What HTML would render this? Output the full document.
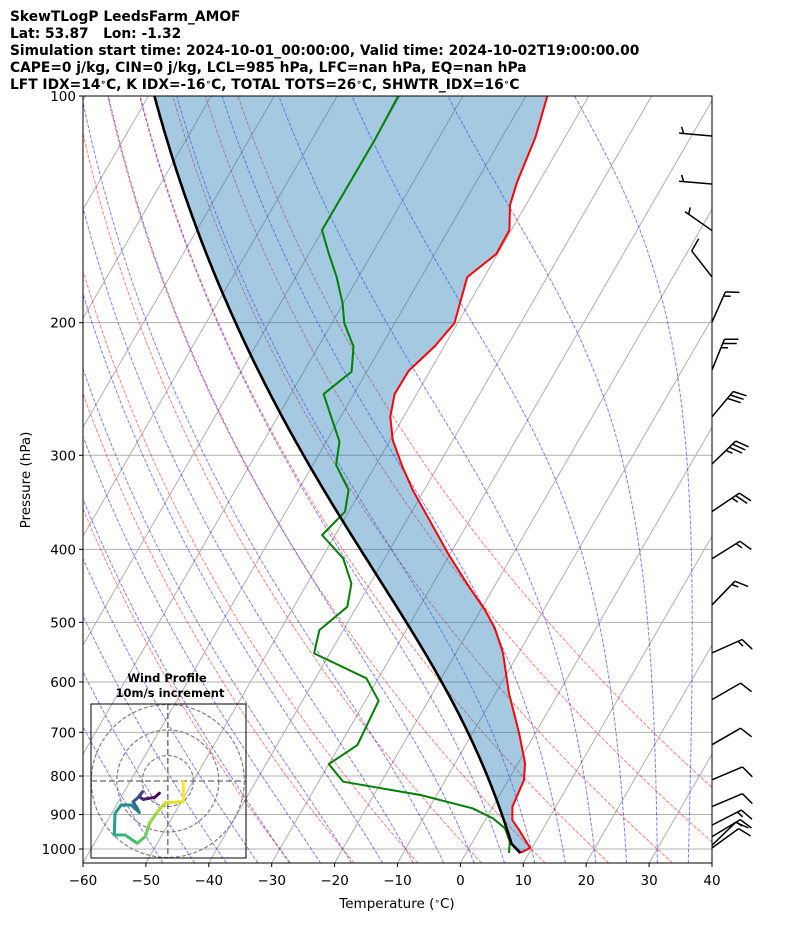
<!DOCTYPE html>
<html><head><meta charset="utf-8"><style>
html,body{margin:0;padding:0;background:#fff;}
svg{display:block;font-family:"DejaVu Sans","Liberation Sans",sans-serif;}
</style></head><body>
<svg id="chart" width="794" height="937" viewBox="0 0 794 937" xmlns="http://www.w3.org/2000/svg">
<defs><clipPath id="plotclip"><rect x="83" y="96" width="629" height="767"/></clipPath>
<clipPath id="hodoclip"><rect x="91" y="704" width="155" height="154"/></clipPath></defs>
<g font-weight="bold" font-size="13.8" fill="#000">
<text x="10" y="21">SkewTLogP LeedsFarm_AMOF</text>
<text x="10" y="38" xml:space="preserve">Lat: 53.87   Lon: -1.32</text>
<text x="10" y="55">Simulation start time: 2024-10-01_00:00:00, Valid time: 2024-10-02T19:00:00.00</text>
<text x="10" y="72">CAPE=0 j/kg, CIN=0 j/kg, LCL=985 hPa, LFC=nan hPa, EQ=nan hPa</text>
<text x="10" y="89">LFT IDX=14<tspan font-size="9" dy="-4">∘</tspan><tspan dy="4">C, K IDX=-16</tspan><tspan font-size="9" dy="-4">∘</tspan><tspan dy="4">C, TOTAL TOTS=26</tspan><tspan font-size="9" dy="-4">∘</tspan><tspan dy="4">C, SHWTR_IDX=16</tspan><tspan font-size="9" dy="-4">∘</tspan><tspan dy="4">C</tspan></text>
</g>
<g id="bg" clip-path="url(#plotclip)"></g>
<g id="data" clip-path="url(#plotclip)"></g>
<g id="axes"></g>
<g id="barbs"></g>
<g id="hodo"></g>
<text x="0" y="0" font-size="13.5" text-anchor="middle" transform="translate(30,480) rotate(-90)">Pressure (hPa)</text>
<text x="397" y="908" font-size="13.5" text-anchor="middle">Temperature (<tspan font-size="9" dy="-4">∘</tspan><tspan dy="4">C)</tspan></text>
</svg>
<script>
// ---- data ----
const tempP = [100,113.4,130.1,139.6,150.7,162.1,174.0,200.2,214.8,231.8,248.8,266.7,286.3,310.7,333.7,340.6,407,448.4,481.6,508.8,549.2,620.6,701.5,768.8,809.8,878.7,915.2,943.6,997,1012];
const tempT = [-56.6,-54.7,-53.5,-52.5,-50.3,-50.2,-52.7,-50.5,-51.5,-53.4,-53.5,-52.1,-49.6,-45.6,-41.8,-40.6,-30.1,-24.0,-19.3,-16.1,-12.5,-7.9,-2.6,1.1,2.5,3.1,4.3,6.3,9.7,8.6];
const dewP = [100,114.4,150.7,161.8,173.8,188.5,200.4,215.2,232.3,248.8,287.8,309,333.7,356.5,382.8,411.2,443.9,476.8,512,549.8,593.4,635.6,727.7,771.3,814,847.9,883.1,910.6,938.6,978,1012];
const dewT = [-80.3,-80.0,-80.1,-76.9,-73.5,-70.1,-68.0,-64.4,-62.4,-64.8,-57.9,-56.3,-52.0,-50.6,-52.1,-46.6,-43.0,-41.5,-43.8,-42.5,-31.9,-27.9,-27.2,-30.0,-26.1,-12.6,-3.1,1.1,3.9,5.9,6.8];
const barbP = [113.0,130.9,150.9,173.9,199.6,231.1,266.7,308.1,356.3,411.7,474.1,549.0,633.3,726.9,809.2,878.3,929.6,962.8,988.6,997];
const barbAngle = [-175,-175,-145,-128,-66,-68,-50,-44,-34,-32,-46,-24,-30,-30,-23,-23,-27,-31,-44,-36];
const barbFull = [0,0,0,1,1,2,3,3,2,1,1,1,1,1,1,1,1,1,1,1];
const barbHalf = [1,1,1,0,1,1,0,1,1,1,1,1,0,0,0,0,1,1,0,0];
const hodoU = [-3.3,-5.1,-9.6,-11.2,-9.9,-12.0,-13.6,-12.0,-11.2,-14.4,-18.3,-20.7,-21.0,-16.7,-12.0,-8.8,-7.2,-4.0,-0.9,6.1,6.1];
const hodoV = [-4.8,-6.4,-7.2,-6.2,-4.2,-6.8,-8.1,-10.7,-12.3,-9.4,-9.4,-12.7,-21.2,-21.2,-24.4,-21.8,-16.6,-12.0,-8.5,-8.1,-0.3];
const pTicks = [100,200,300,400,500,600,700,800,900,1000];
const tTicks = [-60,-50,-40,-30,-20,-10,0,10,20,30,40];
const surfP = 1012, surfT = 8.6, surfTd = 6.8;

// ---- scales ----
const X0=83,X1=712,Y0=96,Y1=863;
const PBOT = 100*Math.pow(10,(Y1-Y0)/753);
function yP(p){return Y0+753*Math.log10(p/100);}
function xT(T,p){return X0+(T+60)*6.29+(Y1-yP(p))*0.5774;}
const NS='http://www.w3.org/2000/svg';
function mk(tag,attrs,parent){const e=document.createElementNS(NS,tag);for(const k in attrs)e.setAttribute(k,attrs[k]);parent.appendChild(e);return e;}
const bg=document.getElementById('bg'), dg=document.getElementById('data'), ax=document.getElementById('axes');

// physics
const Rd=287.04,cp=1005.7,Lv=2.501e6,eps=0.622;
function es(Tc){return 6.112*Math.exp(17.67*Tc/(Tc+243.5));}
function rs(p,Tc){const e=es(Tc);return eps*e/(p-e);}
function dTdp(p,TK){const r=rs(p,TK-273.15);return (Rd*TK+Lv*r)/(p*(cp+Lv*Lv*r*eps/(Rd*TK*TK)));}
function moist(p0,T0c,p1,step){const pts=[];let p=p0,T=T0c+273.15;pts.push([p,T-273.15]);const dir=p1<p0?-1:1;
 while((dir<0&&p>p1)||(dir>0&&p<p1)){const h=dir*step;const k1=dTdp(p,T);const k2=dTdp(p+h/2,T+k1*h/2);T+=k2*h;p+=h;pts.push([p,T-273.15]);}return pts;}
function ptsStr(pts){return pts.map(q=>xT(q[1],q[0]).toFixed(1)+','+yP(q[0]).toFixed(1)).join(' ');}

// horizontal grid
pTicks.forEach(p=>{const l=mk('line',{x1:X0,x2:X1,y1:yP(p),y2:yP(p),stroke:'#b0b0b0','stroke-width':1},bg);

});
// isotherms
for(let T=-170;T<=40;T+=10){const l=mk('line',{x1:xT(T,PBOT),y1:Y1,x2:xT(T,100),y2:Y0,stroke:'#b0b0b0','stroke-width':1},bg);

}
// dry adiabats
for(let t0=-30;t0<=50;t0+=10){const pts=[];const th=t0+273.15;for(let p=PBOT;p>=99;p-=5){pts.push([p,th*Math.pow(p/1000,0.2857)-273.15]);}pts.push([100,th*Math.pow(0.1,0.2857)-273.15]);
const l=mk('polyline',{points:ptsStr(pts),fill:'none',stroke:'rgba(255,0,0,0.5)','stroke-width':1,'stroke-dasharray':'3.7 1.6'},bg);

}
// moist adiabats
for(let t0=-50;t0<=45;t0+=5){const up=moist(1000,t0,100,2);const dn=moist(1000,t0,PBOT,2).reverse();const pts=dn.concat(up.slice(1));
const l=mk('polyline',{points:ptsStr(pts),fill:'none',stroke:'rgba(0,0,255,0.5)','stroke-width':1,'stroke-dasharray':'3.7 1.6'},bg);

}

// parcel
const w0=rs(surfP,surfTd);let parcel=[];let p=surfP,T=surfT;const thK=(surfT+273.15)*Math.pow(1000/surfP,0.2857);
while(p>100){T=thK*Math.pow(p/1000,0.2857)-273.15;parcel.push([p,T]);if(rs(p,T)<=w0)break;p-=0.5;}
const lclP=p,lclT=T;parcel=parcel.concat(moist(lclP,lclT,100,2).slice(1));
// fill
const tempPts=tempP.map((pp,i)=>[pp,tempT[i]]);
const fillPts=parcel.concat(tempPts.slice().sort((a,b)=>a[0]-b[0]));
const fl=mk('polygon',{points:ptsStr(fillPts),fill:'rgba(31,119,180,0.4)',stroke:'none'},dg);


const tl=mk('polyline',{points:ptsStr(tempPts),fill:'none',stroke:'#ff0000','stroke-width':2,'stroke-linejoin':'round'},dg);


const dl=mk('polyline',{points:ptsStr(dewP.map((pp,i)=>[pp,dewT[i]])),fill:'none',stroke:'#008000','stroke-width':2,'stroke-linejoin':'round'},dg);


const pl=mk('polyline',{points:ptsStr(parcel),fill:'none',stroke:'#000','stroke-width':2.6},dg);



// axes frame & ticks
const fr=mk('rect',{x:X0,y:Y0,width:X1-X0,height:Y1-Y0,fill:'none',stroke:'#000','stroke-width':1},ax);


pTicks.forEach(pp=>{const y=yP(pp);mk('line',{x1:X0-4,x2:X0,y1:y,y2:y,stroke:'#000'},ax);
const t=mk('text',{x:X0-7,y:y+5,'font-size':13.5,'text-anchor':'end'},ax);t.textContent=pp;

});
tTicks.forEach(tt=>{const x=X0+(tt+60)*6.29;mk('line',{x1:x,x2:x,y1:Y1,y2:Y1+4,stroke:'#000'},ax);
const t=mk('text',{x:x,y:Y1+22,'font-size':13.5,'text-anchor':'middle'},ax);t.textContent=String(tt).replace('-','\u2212');

});

// barbs
const bgp=document.getElementById('barbs');
barbP.forEach((bp,i)=>{const bx=X1,by=yP(bp);const a=barbAngle[i]*Math.PI/180;const L=33;
const ux=Math.cos(a),uy=Math.sin(a);const tx=bx+ux*L,ty=by+uy*L;
const b=a+68*Math.PI/180;const vx=Math.cos(b),vy=Math.sin(b);
let d=`M${bx},${by}L${tx.toFixed(1)},${ty.toFixed(1)}`;let off=0;
for(let k=0;k<barbFull[i];k++){const sx=tx-ux*off,sy=ty-uy*off;d+=`M${sx.toFixed(1)},${sy.toFixed(1)}l${(vx*14).toFixed(1)},${(vy*14).toFixed(1)}`;off+=4.5;}
for(let k=0;k<barbHalf[i];k++){if(off===0)off=4.5;const sx=tx-ux*off,sy=ty-uy*off;d+=`M${sx.toFixed(1)},${sy.toFixed(1)}l${(vx*7).toFixed(1)},${(vy*7).toFixed(1)}`;off+=4.5;}
const pth=mk('path',{d:d,fill:'none',stroke:'#000','stroke-width':1.5},bgp);

});

// hodograph
const hg=document.getElementById('hodo');const HX=167.8,HY=781,HS=2.55;
const ht1=mk('text',{x:167,y:682,'font-size':11.5,'font-weight':'bold','text-anchor':'middle'},hg);ht1.textContent='Wind Profile';


const ht2=mk('text',{x:170,y:697,'font-size':11.5,'font-weight':'bold','text-anchor':'middle'},hg);ht2.textContent='10m/s increment';


const hc=mk('g',{'clip-path':'url(#hodoclip)'},hg);
[10,20,30].forEach(r=>{const c=mk('circle',{cx:HX,cy:HY,r:r*HS,fill:'none',stroke:'#808080','stroke-width':1.2,'stroke-dasharray':'4 2'},hc);

});
mk('line',{x1:91,x2:246,y1:HY,y2:HY,stroke:'#808080','stroke-width':1.6,'stroke-dasharray':'6 3'},hc);
mk('line',{x1:HX,x2:HX,y1:704,y2:858,stroke:'#808080','stroke-width':1.6,'stroke-dasharray':'6 3'},hc);
const vir=[[68,1,84],[72,40,120],[62,74,137],[49,104,142],[38,130,142],[31,158,137],[53,183,121],[109,205,89],[180,222,44],[253,231,37]];
function vcol(t){const s=t*(vir.length-1);const i=Math.min(Math.floor(s),vir.length-2);const f=s-i;const c=vir[i].map((v,j)=>Math.round(v+(vir[i+1][j]-v)*f));return `rgb(${c})`;}
for(let i=0;i<hodoU.length-1;i++){const ln=mk('line',{x1:HX+hodoU[i]*HS,y1:HY-hodoV[i]*HS,x2:HX+hodoU[i+1]*HS,y2:HY-hodoV[i+1]*HS,stroke:vcol(i/(hodoU.length-2)),'stroke-width':3,'stroke-linecap':'round'},hc);

}
const hb=mk('rect',{x:91,y:704,width:155,height:154,fill:'none',stroke:'#000','stroke-width':1},hg);


</script>
</body></html>
